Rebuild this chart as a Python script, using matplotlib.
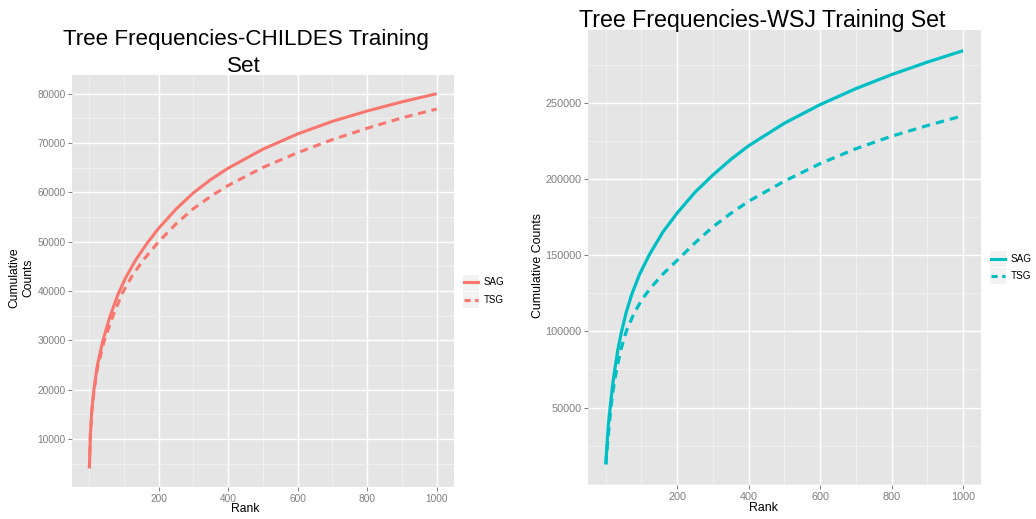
import matplotlib
matplotlib.use("Agg")
import matplotlib.pyplot as plt
from matplotlib.patches import Rectangle
from matplotlib.lines import Line2D

# ---------------- data ----------------
childes_sag_rank = [1, 4, 8, 14, 24, 40, 60, 83, 106, 135, 168, 200, 250, 300, 350, 400,
                    500, 600, 700, 800, 900, 1000]
childes_sag_vals = [4100, 11000, 15800, 20000, 25000, 30000, 34800, 39300, 42800, 46400, 49800,
                    52700, 56600, 59900, 62600, 64900, 68750, 71850, 74400, 76500, 78350, 80000]
childes_tsg_rank = [1, 4, 8, 14, 24, 43, 69, 96, 125, 155, 200, 250, 300, 350, 400,
                    500, 600, 700, 800, 900, 1000]
childes_tsg_vals = [4100, 11000, 15600, 19600, 24300, 29800, 35000, 39600, 43200, 46200, 50000,
                    53600, 56700, 59200, 61400, 65050, 68050, 70700, 73000, 75100, 76900]

wsj_sag_rank = [1, 4, 8, 13, 19, 26, 35, 45, 58, 73, 95, 122, 160, 200, 250, 300, 350, 400,
                500, 600, 700, 800, 900, 1000]
wsj_sag_vals = [12800, 25000, 39000, 50000, 63000, 75000, 88500, 100000, 112500, 124000, 137300,
                150000, 165000, 177500, 191200, 202500, 212700, 221700, 236500, 248700, 259200,
                268400, 276600, 284100]
wsj_tsg_rank = [1, 3, 6, 10, 15, 22, 31, 43, 58, 80, 105, 130, 160, 200, 250, 300, 350, 400,
                500, 600, 700, 800, 900, 1000]
wsj_tsg_vals = [12800, 19000, 27000, 37500, 50000, 62500, 75000, 88000, 100000, 112000, 122000,
                129500, 137500, 146500, 158000, 168500, 177300, 185300, 198500, 210000, 219800,
                228000, 235000, 241500]

series_labels = ["SAG", "TSG"]
x_ticks = [200, 400, 600, 800, 1000]
x_minor = [0, 100, 300, 500, 700, 900]
childes_yticks = [10000, 20000, 30000, 40000, 50000, 60000, 70000, 80000]
childes_yminor = [5000, 15000, 25000, 35000, 45000, 55000, 65000, 75000]
wsj_yticks = [50000, 100000, 150000, 200000, 250000]
wsj_yminor = [0, 25000, 75000, 125000, 175000, 225000, 275000]

col_childes = "#F8766D"
col_wsj = "#00BFC4"

# ---------------- figure ----------------
W, H = 1036, 519
fig = plt.figure(figsize=(W / 100, H / 100), dpi=100)
plt.rcParams["font.family"] = ["Liberation Sans", "DejaVu Sans"]

def fx(px):
    return px / W

def fy(py):
    return 1 - py / H

def expand(lo, hi, f=0.05):
    d = hi - lo
    return lo - f * d, hi + f * d

def style_panel(ax, yticks, yminor, xlim, ylim, tick_fs):
    ax.set_facecolor("#E5E5E5")
    for s in ax.spines.values():
        s.set_visible(False)
    ax.set_xlim(*xlim)
    ax.set_ylim(*ylim)
    ax.set_xticks(x_ticks)
    ax.set_xticks(x_minor, minor=True)
    ax.set_yticks(yticks)
    ax.set_yticks(yminor, minor=True)
    ax.set_xticklabels([str(v) for v in x_ticks])
    ax.set_yticklabels([str(v) for v in yticks])
    ax.grid(which="major", color="white", linewidth=1.0)
    ax.grid(which="minor", color="#F2F2F2", linewidth=0.6)
    ax.set_axisbelow(True)
    ax.tick_params(which="major", length=3.2, width=0.7, color="#7F7F7F",
                   labelcolor="#7F7F7F", labelsize=tick_fs, pad=1.5)
    ax.tick_params(which="minor", length=0)

lw = 2.2
dash = (2.6, 1.9)

# ---- left panel ----
axL = fig.add_axes([fx(72), fy(487), fx(454) - fx(72), fy(75) - fy(487)])
xlimL = expand(min(childes_sag_rank), max(childes_sag_rank))
ylimL = expand(min(childes_sag_vals + childes_tsg_vals), max(childes_sag_vals + childes_tsg_vals))
style_panel(axL, childes_yticks, childes_yminor, xlimL, ylimL, 7.3)
axL.plot(childes_sag_rank, childes_sag_vals, color=col_childes, lw=lw,
         solid_capstyle="butt", solid_joinstyle="round")
axL.plot(childes_tsg_rank, childes_tsg_vals, color=col_childes, lw=lw, dashes=dash,
         dash_capstyle="butt")

# ---- right panel ----
axR = fig.add_axes([fx(588), fy(485), fx(981) - fx(588), fy(30) - fy(485)])
xlimR = expand(min(wsj_sag_rank), max(wsj_sag_rank))
ylimR = expand(min(wsj_sag_vals + wsj_tsg_vals), max(wsj_sag_vals + wsj_tsg_vals))
style_panel(axR, wsj_yticks, wsj_yminor, xlimR, ylimR, 7.8)
axR.plot(wsj_sag_rank, wsj_sag_vals, color=col_wsj, lw=lw * 1.05,
         solid_capstyle="butt", solid_joinstyle="round")
axR.plot(wsj_tsg_rank, wsj_tsg_vals, color=col_wsj, lw=lw * 1.05, dashes=dash,
         dash_capstyle="butt")

# ---- titles and axis labels ----
fig.text(fx(245.5), fy(45), "Tree Frequencies-CHILDES Training", ha="center", va="baseline", fontsize=16.1)
fig.text(fx(243.7), fy(71.5), "Set", ha="center", va="baseline", fontsize=16.1)
fig.text(fx(762.5), fy(27), "Tree Frequencies-WSJ Training Set", ha="center", va="baseline", fontsize=16.7)

fig.text(fx(245), fy(509), "Rank", ha="center", va="center", fontsize=8.7)
fig.text(fx(763), fy(508), "Rank", ha="center", va="center", fontsize=8.9)
fig.text(fx(21), fy(278), "Cumulative\nCounts", ha="center", va="center", rotation=90,
         fontsize=8.7, multialignment="center", linespacing=1.25)
fig.text(fx(538), fy(265.7), "Cumulative Counts", ha="center", va="center", rotation=90, fontsize=8.9)

# ---- legends ----
def draw_legend(x0, y0, key_w, key_h, color, text_x, fs):
    for i, lab in enumerate(series_labels):
        top = y0 + i * key_h
        fig.add_artist(Rectangle((fx(x0), fy(top + key_h)), fx(key_w), key_h / H,
                                 transform=fig.transFigure, facecolor="#F2F2F2",
                                 edgecolor="white", linewidth=0.8))
        yc = top + key_h / 2
        ln = Line2D([fx(x0 + 1.5), fx(x0 + key_w - 1.5)], [fy(yc), fy(yc)],
                    transform=fig.transFigure, color=color, lw=lw)
        if i == 1:
            ln.set_dashes((2.0, 1.5))
        fig.add_artist(ln)
        fig.text(fx(text_x), fy(yc), lab, ha="left", va="center", fontsize=fs)

draw_legend(462, 273.5, 17, 17.4, col_childes, 483.7, 7.0)
draw_legend(989, 250, 17, 17.2, col_wsj, 1011, 7.2)

fig.savefig("out.png", dpi=100)
